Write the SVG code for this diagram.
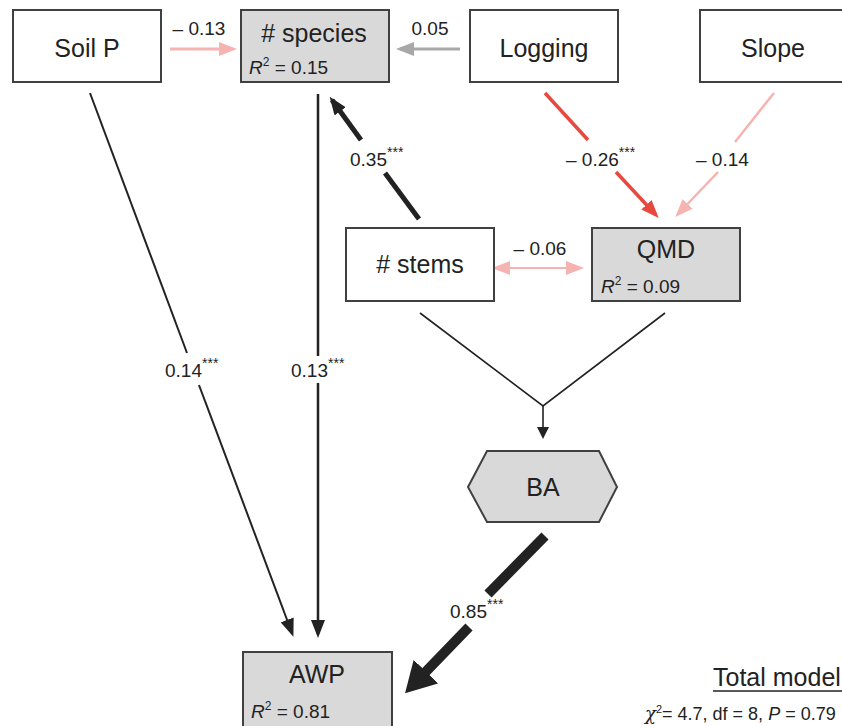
<svg xmlns="http://www.w3.org/2000/svg" width="842" height="726" viewBox="0 0 842 726">
<defs>
<style>
text{font-family:"Liberation Sans",Arial,sans-serif;fill:#222}
.box{stroke:#404040;stroke-width:2}
.w{fill:#fff}
.g{fill:#d9d9d9}
.nl{font-size:25px;text-anchor:middle}
.r2{font-size:19px}
.lab{font-size:19px}
.c{fill:none;stroke-linecap:butt}
.blk{stroke:#222}
.pink{stroke:#f5b4b1}
.red{stroke:#e8493f}
.gray{stroke:#a8a8a8}
</style>
<marker id="aBlk" markerUnits="userSpaceOnUse" markerWidth="18" markerHeight="14" refX="14" refY="7" orient="auto"><path d="M0,0 L18,7 L0,14 z" fill="#222"/></marker>
<marker id="aBlkS" markerUnits="userSpaceOnUse" markerWidth="12" markerHeight="12" refX="9" refY="6" orient="auto"><path d="M0,0 L12,6 L0,12 z" fill="#222"/></marker>
<marker id="aBig" markerUnits="userSpaceOnUse" markerWidth="30" markerHeight="34" refX="20" refY="17" orient="auto"><path d="M0,0 L30,17 L0,34 z" fill="#222"/></marker>
<marker id="aPink" markerUnits="userSpaceOnUse" markerWidth="18" markerHeight="14" refX="14" refY="7" orient="auto"><path d="M0,0 L18,7 L0,14 z" fill="#f5b4b1"/></marker>
<marker id="aPinkS" markerUnits="userSpaceOnUse" markerWidth="18" markerHeight="14" refX="4" refY="7" orient="auto-start-reverse"><path d="M0,0 L18,7 L0,14 z" fill="#f5b4b1"/></marker>
<marker id="aRed" markerUnits="userSpaceOnUse" markerWidth="18" markerHeight="14" refX="14" refY="7" orient="auto"><path d="M0,0 L18,7 L0,14 z" fill="#e8493f"/></marker>
<marker id="aGray" markerUnits="userSpaceOnUse" markerWidth="18" markerHeight="14" refX="14" refY="7" orient="auto"><path d="M0,0 L18,7 L0,14 z" fill="#a8a8a8"/></marker>
</defs>
<rect width="842" height="726" fill="#fff"/>

<g id="connectors">
<line class="c pink" x1="170" y1="49" x2="233" y2="49" stroke-width="3" marker-end="url(#aPink)"/>
<line class="c gray" x1="460" y1="49" x2="400" y2="49" stroke-width="3" marker-end="url(#aGray)"/>
<line class="c blk" x1="90" y1="93" x2="187" y2="353" stroke-width="2"/>
<line class="c blk" x1="199" y1="385" x2="292" y2="633" stroke-width="2" marker-end="url(#aBlk)"/>
<line class="c blk" x1="318" y1="94" x2="318" y2="356" stroke-width="2.5"/>
<line class="c blk" x1="318" y1="383" x2="318" y2="634" stroke-width="2.5" marker-end="url(#aBlk)"/>
<line class="c blk" x1="419" y1="219" x2="385" y2="173" stroke-width="5"/>
<line class="c blk" x1="361" y1="140" x2="332" y2="100" stroke-width="5" marker-end="url(#aBlk)"/>
<line class="c red" x1="545" y1="93" x2="588" y2="140" stroke-width="3.5"/>
<line class="c red" x1="616" y1="172" x2="656" y2="215" stroke-width="3.5" marker-end="url(#aRed)"/>
<line class="c pink" x1="774" y1="93" x2="735" y2="142" stroke-width="2.5"/>
<line class="c pink" x1="718" y1="172" x2="678" y2="214" stroke-width="2.5" marker-end="url(#aPink)"/>
<line class="c pink" x1="506" y1="268" x2="580" y2="268" stroke-width="2" marker-start="url(#aPinkS)" marker-end="url(#aPink)"/>
<polyline class="c blk" points="420,313 543,406 665,313" stroke-width="1.6"/>
<line class="c blk" x1="543" y1="406" x2="543" y2="436" stroke-width="1.6" marker-end="url(#aBlkS)"/>
<line class="c blk" x1="545" y1="536" x2="488" y2="594" stroke-width="10"/>
<line class="c blk" x1="469" y1="627" x2="412" y2="686" stroke-width="10" marker-end="url(#aBig)"/>
<text class="lab" x="199" y="35" text-anchor="middle">– 0.13</text>
<text class="lab" x="430" y="35" text-anchor="middle">0.05</text>
<text class="lab" x="350" y="166">0.35<tspan font-size="14" dy="-9">***</tspan></text>
<text class="lab" x="566" y="166">– 0.26<tspan font-size="14" dy="-9">***</tspan></text>
<text class="lab" x="696" y="166">– 0.14</text>
<text class="lab" x="540" y="255" text-anchor="middle">– 0.06</text>
<text class="lab" x="165" y="377">0.14<tspan font-size="14" dy="-9">***</tspan></text>
<text class="lab" x="291" y="377">0.13<tspan font-size="14" dy="-9">***</tspan></text>
<text class="lab" x="450" y="618">0.85<tspan font-size="14" dy="-9">***</tspan></text>
</g>

<g id="soilp"><rect class="box w" x="13" y="10" width="148" height="72"/><text class="nl" x="87" y="57">Soil P</text></g>
<g id="species"><rect class="box g" x="241" y="10" width="148" height="72"/><text class="nl" x="314" y="42"># species</text><text class="r2" x="249" y="74"><tspan font-style="italic">R</tspan><tspan font-size="12" dy="-8">2</tspan><tspan dy="8"> = 0.15</tspan></text></g>
<g id="logging"><rect class="box w" x="470" y="10" width="148" height="72"/><text class="nl" x="544" y="57">Logging</text></g>
<g id="slope"><rect class="box w" x="700" y="10" width="148" height="72"/><text class="nl" x="773" y="57">Slope</text></g>
<g id="stems"><rect class="box w" x="346" y="228" width="148" height="73"/><text class="nl" x="420" y="273"># stems</text></g>
<g id="qmd"><rect class="box g" x="592" y="228" width="148" height="73"/><text class="nl" x="666" y="258">QMD</text><text class="r2" x="601" y="293"><tspan font-style="italic">R</tspan><tspan font-size="12" dy="-8">2</tspan><tspan dy="8"> = 0.09</tspan></text></g>
<g id="ba"><polygon class="box g" points="468,487 487,451 599,451 617,487 599,522 487,522"/><text class="nl" x="543" y="496">BA</text></g>
<g id="awp"><rect class="box g" x="243" y="652" width="149" height="80"/><text class="nl" x="317" y="683">AWP</text><text class="r2" x="251" y="718"><tspan font-style="italic">R</tspan><tspan font-size="12" dy="-8">2</tspan><tspan dy="8"> = 0.81</tspan></text></g>

<g id="total">
<text x="713" y="686" font-size="25">Total model</text>
<line x1="713" y1="691" x2="850" y2="691" stroke="#222" stroke-width="1.5"/>
<text x="645" y="720" font-size="18"><tspan font-family="'DejaVu Serif',serif" font-style="italic">χ</tspan><tspan font-size="11" dy="-7">2</tspan><tspan dy="7">= 4.7, df = 8, </tspan><tspan font-style="italic">P</tspan> = 0.79</text>
</g>
</svg>
